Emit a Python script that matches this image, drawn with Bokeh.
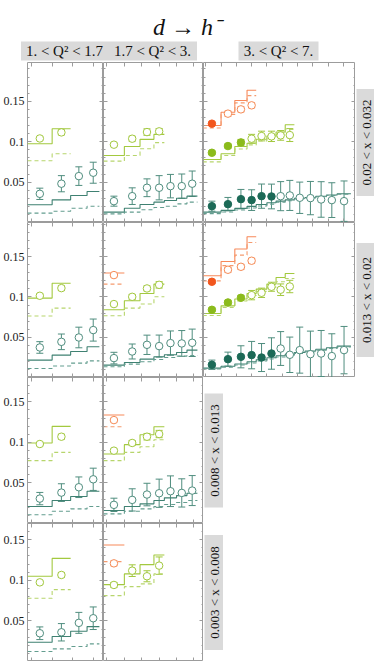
import numpy as np
from math import pi
from bokeh.plotting import figure
from bokeh.layouts import column, row
from bokeh.models import (Range1d, FixedTicker, LinearAxis, ColumnDataSource,
                          Whisker, TeeHead, Label, BoxAnnotation)
from bokeh.embed import file_html
from bokeh.resources import INLINE

# ---------------- texts ----------------
TITLE = "d → h⁻"
Q2_BINS = ["1. < Q² < 1.7", "1.7 < Q² < 3.", "3. < Q² < 7."]
X_BINS = ["0.02 < x < 0.032", "0.013 < x < 0.02", "0.008 < x < 0.013", "0.003 < x < 0.008"]

# ---------------- bins (P_T) ----------------
PT_EDGES = [0.08, 0.2, 0.29, 0.37, 0.43, 0.5, 0.56, 0.62, 0.68, 0.75, 0.82, 0.89, 0.96, 1.05]
PT_CENTERS = [0.14, 0.245, 0.33, 0.40, 0.465, 0.53, 0.59, 0.65, 0.715, 0.785, 0.855, 0.925, 1.005]

YTICKS = [0.05, 0.1, 0.15]
YTICK_LABELS = ["0.05", "0.1", "0.15"]
YMINOR = [0.01, 0.02, 0.03, 0.04, 0.06, 0.07, 0.08, 0.09, 0.11, 0.12, 0.13, 0.14,
          0.16, 0.17, 0.18, 0.19]
XTICKS = [0.1, 0.2, 0.3, 0.4, 0.5, 0.6, 0.7, 0.8, 0.9, 1.0]
X_RANGES = [(0.08, 0.45), (0.08, 0.655), (0.085, 1.08)]
Y_MAX = [0.198, 0.1925, 0.18, 0.17]

# ---------------- data: row 1 (0.02 < x < 0.032) ----------------
R1C1_G = [0.104, 0.1115]
R1C1_G_ERR = [0.002, 0.003]
R1C1_G_FIT = [0.0975, 0.116]
R1C1_G_FIT2 = [0.0764, 0.085]
R1C1_T = [0.0355, 0.048, 0.0574, 0.0616]
R1C1_T_ERR = [0.007, 0.010, 0.0115, 0.013]
R1C1_T_FIT = [0.0219, 0.028, 0.0334, 0.0384]
R1C1_T_FIT2 = [0.0116, 0.014, 0.0177, 0.0202]

R1C2_G = [0.0963, 0.1037, 0.1119, 0.1128]
R1C2_G_ERR = [0.002, 0.003, 0.004, 0.0035]
R1C2_G_FIT = [0.083, 0.094, 0.1029, 0.109]
R1C2_G_FIT2 = [0.076, 0.083, 0.0913, 0.0988]
R1C2_T = [0.0264, 0.0326, 0.043, 0.043, 0.045, 0.045, 0.048]
R1C2_T_ERR = [0.0062, 0.0103, 0.011, 0.015, 0.0145, 0.015, 0.0157]
R1C2_T_FIT = [0.0128, 0.0177, 0.0223, 0.0252, 0.0273, 0.0301, 0.0326]
R1C2_T_FIT2 = [0.0107, 0.0128, 0.0157, 0.0186, 0.0202, 0.0231, 0.0252]

R1C3_O = [0.1223, 0.1347, 0.14, 0.145]
R1C3_O_ERR = [0.002, 0.003, 0.003, 0.003]
R1C3_O_FIT = [0.120, 0.1365, 0.151, 0.1636]
R1C3_O_FIT2 = [0.117, 0.1338, 0.148, 0.157]
R1C3_G = [0.0863, 0.0946, 0.0991, 0.1037, 0.107, 0.1066, 0.1078, 0.1082]
R1C3_G_ERR = [0.002, 0.0025, 0.0037, 0.0054, 0.006, 0.0064, 0.006, 0.008]
R1C3_G_FIT = [0.078, 0.085, 0.094, 0.098, 0.103, 0.107, 0.112, 0.121]
R1C3_G_FIT2 = [0.075, 0.083, 0.091, 0.096, 0.101, 0.104, 0.109, 0.115]
R1C3_T = [0.0202, 0.0227, 0.0289, 0.0277, 0.0326, 0.0322, 0.0326, 0.0335, 0.0306,
          0.0302, 0.0285, 0.0277, 0.0264]
R1C3_T_ERR = [0.0062, 0.0083, 0.012, 0.0128, 0.015, 0.0153, 0.018, 0.0186, 0.0194,
              0.0206, 0.022, 0.0215, 0.025]
R1C3_T_FIT = [0.0128, 0.0150, 0.0175, 0.0200, 0.0222, 0.0245, 0.0265, 0.028, 0.030,
              0.031, 0.0325, 0.034, 0.0355]
R1C3_T_FIT2 = [0.0110, 0.0130, 0.0155, 0.0180, 0.0205, 0.0228, 0.025, 0.027, 0.029,
               0.0305, 0.032, 0.0335, 0.035]

# ---------------- data: row 2 (0.013 < x < 0.02) ----------------
R2C1_G = [0.1015, 0.111]
R2C1_G_ERR = [0.002, 0.003]
R2C1_G_FIT = [0.0986, 0.117]
R2C1_G_FIT2 = [0.0763, 0.0862]
R2C1_T = [0.0373, 0.0443, 0.0497, 0.0589]
R2C1_T_ERR = [0.0072, 0.0097, 0.0128, 0.0137]
R2C1_T_FIT = [0.0216, 0.0278, 0.0323, 0.0381]
R2C1_T_FIT2 = [0.0112, 0.0142, 0.0179, 0.0207]

R2C2_O = [0.1272]
R2C2_O_ERR = [0.002]
R2C2_O_FIT = [0.1297]
R2C2_O_FIT2 = [0.116]
R2C2_G = [0.0912, 0.1002, 0.1106, 0.1151]
R2C2_G_ERR = [0.002, 0.003, 0.003, 0.004]
R2C2_G_FIT = [0.0841, 0.0953, 0.1043, 0.116]
R2C2_G_FIT2 = [0.0766, 0.0862, 0.0912, 0.1002]
R2C2_T = [0.0241, 0.0323, 0.0406, 0.039, 0.0427, 0.0423, 0.0431]
R2C2_T_ERR = [0.0072, 0.0093, 0.012, 0.0137, 0.0151, 0.016, 0.017]
R2C2_T_FIT = [0.0154, 0.0187, 0.0228, 0.0257, 0.0282, 0.031, 0.034]
R2C2_T_FIT2 = [0.0133, 0.0166, 0.0195, 0.0224, 0.0248, 0.0266, 0.0273]

R2C3_O = [0.1189, 0.1338, 0.1375, 0.145]
R2C3_O_ERR = [0.002, 0.003, 0.003, 0.003]
R2C3_O_FIT = [0.1263, 0.144, 0.1595, 0.1748]
R2C3_O_FIT2 = [0.120, 0.139, 0.152, 0.1677]
R2C3_G = [0.0841, 0.0932, 0.099, 0.1023, 0.1052, 0.1127, 0.109, 0.113]
R2C3_G_ERR = [0.002, 0.0025, 0.003, 0.0058, 0.0058, 0.0056, 0.0072, 0.0077]
R2C3_G_FIT = [0.0795, 0.089, 0.0974, 0.1043, 0.1098, 0.116, 0.1242, 0.1292]
R2C3_G_FIT2 = [0.077, 0.087, 0.095, 0.102, 0.107, 0.112, 0.119, 0.123]
R2C3_T = [0.0158, 0.0228, 0.0257, 0.0278, 0.0248, 0.0298, 0.036, 0.0282, 0.034,
          0.029, 0.0298, 0.0266, 0.034]
R2C3_T_ERR = [0.0058, 0.0087, 0.0137, 0.017, 0.0174, 0.0195, 0.021, 0.022, 0.0286,
              0.0286, 0.0286, 0.0277, 0.0294]
R2C3_T_FIT = [0.0117, 0.0140, 0.0168, 0.0195, 0.022, 0.0245, 0.027, 0.029, 0.031,
              0.033, 0.035, 0.037, 0.039]
R2C3_T_FIT2 = [0.0105, 0.0128, 0.0155, 0.018, 0.0205, 0.023, 0.0255, 0.0278, 0.030,
               0.032, 0.034, 0.036, 0.038]

# ---------------- data: row 3 (0.008 < x < 0.013) ----------------
R3C1_G = [0.098, 0.107]
R3C1_G_ERR = [0.002, 0.003]
R3C1_G_FIT = [0.0993, 0.1197]
R3C1_G_FIT2 = [0.0775, 0.0877]
R3C1_T = [0.0307, 0.0381, 0.0447, 0.0545]
R3C1_T_ERR = [0.0076, 0.0109, 0.0127, 0.0137]
R3C1_T_FIT = [0.0209, 0.0283, 0.0332, 0.0398]
R3C1_T_FIT2 = [0.0107, 0.0151, 0.018, 0.0209]

R3C2_O = [0.1275]
R3C2_O_ERR = [0.002]
R3C2_O_FIT = [0.1337]
R3C2_O_FIT2 = [0.1193]
R3C2_G = [0.0898, 0.0993, 0.107, 0.1103]
R3C2_G_ERR = [0.002, 0.003, 0.004, 0.0045]
R3C2_G_FIT = [0.0857, 0.0972, 0.1095, 0.1193]
R3C2_G_FIT2 = [0.0775, 0.0877, 0.0947, 0.1033]
R3C2_T = [0.023, 0.0291, 0.0357, 0.0373, 0.0398, 0.0377, 0.0406]
R3C2_T_ERR = [0.0082, 0.0137, 0.0139, 0.0174, 0.0189, 0.0174, 0.0185]
R3C2_T_FIT = [0.016, 0.0209, 0.0242, 0.0283, 0.0316, 0.0344, 0.0373]
R3C2_T_FIT2 = [0.0119, 0.0151, 0.018, 0.0209, 0.0234, 0.0258, 0.0283]

# ---------------- data: row 4 (0.003 < x < 0.008) ----------------
R4C1_G = [0.0975, 0.1066]
R4C1_G_ERR = [0.002, 0.003]
R4C1_G_FIT = [0.105, 0.127]
R4C1_G_FIT2 = [0.0779, 0.0886]
R4C1_T = [0.0348, 0.036, 0.0476, 0.0533]
R4C1_T_ERR = [0.0078, 0.0107, 0.0129, 0.0139]
R4C1_T_FIT = [0.0238, 0.0308, 0.0373, 0.043]
R4C1_T_FIT2 = [0.0123, 0.0156, 0.0185, 0.0217]

R4C2_O = [0.1209]
R4C2_O_ERR = [0.003]
R4C2_O_FIT = [0.1435]
R4C2_O_FIT2 = [0.123]
R4C2_G = [0.0943, 0.1119, 0.105, 0.1181]
R4C2_G_ERR = [0.003, 0.0072, 0.0068, 0.0107]
R4C2_G_FIT = [0.0947, 0.1079, 0.1193, 0.1312]
R4C2_G_FIT2 = [0.0812, 0.0922, 0.0956, 0.1079]

# number of leading points that are filled (used in fit)
FILLED = {"R1C3_O": 1, "R1C3_G": 3, "R1C3_T": 6, "R2C3_O": 1, "R2C3_G": 3, "R2C3_T": 6}

# ---------------- styles ----------------
SERIF = "Liberation Serif"
FRAME = "#9c9c9c"
BOXC = "#dadada"
COLORS = {
    "O": dict(fill="#f2561d", open="#f58a55", fit="#f7895a", fit2="#f59a6e"),
    "G": dict(fill="#8bbb1c", open="#a2c83e", fit="#a3c93f", fit2="#b7d56c"),
    "T": dict(fill="#1c6a57", open="#4f8d7e", fit="#3f8172", fit2="#639d8f"),
}

LEFT = 26
COL_W = [76, 100, 152]
ROW_H = [160, 155, 146, 138]
LABEL_W = 20
HEAD_H = 62
LABEL_LEN = [107, 114, 114, 115]
HEAD_BOX_W = [87, 89, 80]

SERIES = {}
for r in range(1, 5):
    for c in range(1, 4):
        lst = []
        for k in ("T", "G", "O"):
            name = f"R{r}C{c}_{k}"
            if name in globals():
                lst.append((k, globals()[name], globals()[name + "_ERR"], FILLED.get(name, 0),
                            globals()[name + "_FIT"], globals()[name + "_FIT2"]))
        if lst:
            SERIES[(r - 1, c - 1)] = lst


def add_axes(p, c, labeled):
    for side in ("below", "above"):
        ax = LinearAxis(ticker=FixedTicker(ticks=XTICKS), axis_line_color=None,
                        major_tick_in=4, major_tick_out=0, minor_tick_in=0, minor_tick_out=0,
                        major_tick_line_color=FRAME, major_label_text_font_size="0px",
                        major_label_text_color=None, major_label_standoff=0)
        p.add_layout(ax, side)
    for side in ("left", "right"):
        show = labeled and side == "left"
        ax = LinearAxis(ticker=FixedTicker(ticks=YTICKS, minor_ticks=YMINOR), axis_line_color=None,
                        major_tick_in=4, major_tick_out=0, minor_tick_in=2, minor_tick_out=0,
                        major_tick_line_color=FRAME, minor_tick_line_color=FRAME,
                        major_label_standoff=3 if show else 0,
                        major_label_text_font_size="12px" if show else "0px",
                        major_label_text_font=SERIF,
                        major_label_text_color="#1a1a1a" if show else None,
                        major_label_overrides=dict(zip(YTICKS, YTICK_LABELS)))
        p.add_layout(ax, side)


def panel(r, c):
    p = figure(frame_width=COL_W[c], frame_height=ROW_H[r],
               x_range=Range1d(*X_RANGES[c]), y_range=Range1d(0, Y_MAX[r]),
               x_axis_location=None, y_axis_location=None, toolbar_location=None,
               output_backend="svg", min_border=0, min_border_left=(LEFT if c == 0 else 0),
               outline_line_color=FRAME, outline_line_width=1,
               background_fill_color="white", border_fill_color="white")
    p.grid.visible = False
    add_axes(p, c, c == 0)
    for k, ys, es, nf, fit, fit2 in SERIES.get((r, c), []):
        col = COLORS[k]
        n = len(ys)
        edges = PT_EDGES[:n + 1]
        p.step(edges, list(fit) + [fit[-1]], mode="after", line_color=col["fit"], line_width=1.1)
        p.step(edges, list(fit2) + [fit2[-1]], mode="after", line_color=col["fit2"],
               line_width=1.1, line_dash="4 3")
    for k, ys, es, nf, fit, fit2 in SERIES.get((r, c), []):
        col = COLORS[k]
        n = len(ys)
        y = np.array(ys)
        e = np.array(es)
        src = ColumnDataSource(dict(x=PT_CENTERS[:n], y=y, up=y + e, lo=y - e,
                                    fc=[col["fill"] if i < nf else "white" for i in range(n)],
                                    lc=[col["fill"] if i < nf else col["open"] for i in range(n)]))
        w = Whisker(source=src, base="x", upper="up", lower="lo", line_color=col["open"],
                    line_width=1,
                    upper_head=TeeHead(size=7, line_color=col["open"], line_width=1),
                    lower_head=TeeHead(size=7, line_color=col["open"], line_width=1))
        p.add_layout(w)
        p.scatter("x", "y", source=src, marker="circle", size=7.5, fill_color="fc",
                  line_color="lc", line_width=1)
    return p


def label_fig(r):
    h = ROW_H[r]
    p = figure(width=LABEL_W, height=h, x_range=Range1d(0, LABEL_W),
               y_range=Range1d(0, h), x_axis_location=None, y_axis_location=None,
               toolbar_location=None, output_backend="svg", min_border=0,
               outline_line_color=None, background_fill_color="white", border_fill_color="white")
    p.grid.visible = False
    p.title.visible = False
    L = LABEL_LEN[r]
    p.add_layout(BoxAnnotation(left=1, right=LABEL_W, bottom=h / 2 - L / 2, top=h / 2 + L / 2,
                               fill_color=BOXC, fill_alpha=1, line_color=None))
    p.add_layout(Label(x=LABEL_W / 2 + 0.5, y=h / 2, text=X_BINS[r], angle=pi / 2,
                       text_align="center", text_baseline="middle", text_font=SERIF,
                       text_font_size="13px", text_color="#111111"))
    return p


TOTAL_W = LEFT + sum(COL_W) + LABEL_W
head = figure(width=TOTAL_W, height=HEAD_H, x_range=Range1d(0, TOTAL_W),
              y_range=Range1d(0, HEAD_H), x_axis_location=None, y_axis_location=None,
              toolbar_location=None, output_backend="svg", min_border=0,
              outline_line_color=None, background_fill_color="white", border_fill_color="white")
head.grid.visible = False
head.title.visible = False
head.add_layout(Label(x=TOTAL_W / 2 - 0.5, y=35.5, text=TITLE, text_align="center",
                      text_baseline="alphabetic", text_font=SERIF, text_font_style="italic",
                      text_font_size="24px", text_color="#111111"))
centers = [LEFT + COL_W[0] / 2, LEFT + COL_W[0] + COL_W[1] / 2,
           LEFT + COL_W[0] + COL_W[1] + COL_W[2] / 2]
for i, txt in enumerate(Q2_BINS):
    cx = centers[i]
    head.add_layout(BoxAnnotation(left=cx - HEAD_BOX_W[i] / 2, right=cx + HEAD_BOX_W[i] / 2,
                                  bottom=2, top=21, fill_color=BOXC, fill_alpha=1, line_color=None))
    head.add_layout(Label(x=cx, y=11.5, text=txt, text_align="center", text_baseline="middle",
                          text_font=SERIF, text_font_size="15px", text_color="#111111"))

rows = [head]
for r in range(4):
    ncols = 3 if r < 2 else 2
    figs = [panel(r, c) for c in range(ncols)] + [label_fig(r)]
    rows.append(row(*figs, spacing=0))

layout = column(*rows, spacing=0)
open("out.html", "w").write(file_html(layout, INLINE))
